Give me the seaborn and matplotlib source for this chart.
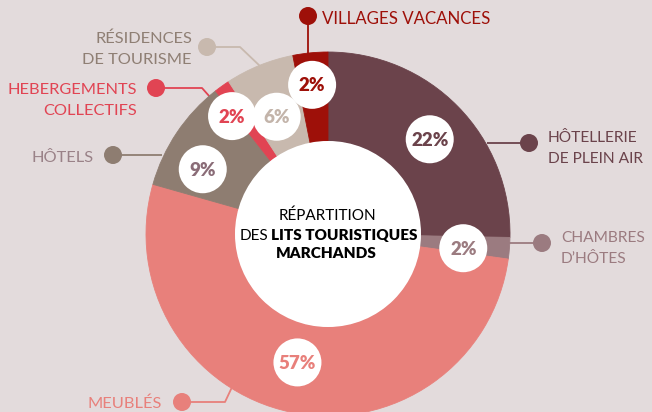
import matplotlib
matplotlib.use("Agg")
import matplotlib.pyplot as plt
import numpy as np
import seaborn as sns
from matplotlib.patches import Circle


sns.set_theme(style="white")
plt.rcParams["font.family"] = ["Lato", "DejaVu Sans"]

# clockwise from 12 o'clock
categories = [
    ["HÔTELLERIE", "DE PLEIN AIR"],
    ["CHAMBRES", "D’HÔTES"],
    ["MEUBLÉS"],
    ["HÔTELS"],
    ["HEBERGEMENTS", "COLLECTIFS"],
    ["RÉSIDENCES", "DE TOURISME"],
    ["VILLAGES VACANCES"],
]
# arc sizes as drawn in the picture (share of the ring, %)
arc_shares = [25.3, 1.9, 52.2, 10.0, 1.4, 6.1, 3.1]
# percentages printed in the bubbles
pct_labels = ["22%", "2%", "57%", "9%", "2%", "6%", "2%"]

wedge_colors = ["#6b434b", "#9b7b80", "#e8807b", "#8e7d71", "#e14453", "#c8b9ae", "#9e1009"]
pct_colors = ["#6b434b", "#9b7b80", "#e8807b", "#8a6c77", "#e14453", "#c3b4aa", "#9e1009"]
name_colors = ["#6b434b", "#9b7b80", "#e8807b", "#9a8288", "#e14453", "#8f7f74", "#9e1009"]

BG = "#e3dbdc"
W, H = 652, 412
CX, CY = 328, 234
R_OUT, R_IN = 182, 93

# layout (pixel coordinates, y down)
bubble_r = [139, 136, 132, 141, 152, 128, 150]
bubble_shift = [1.5, 1.5, 1.5, -6.5, -3.5, -1.5, -0.5]
label_anchor = [(548, 142, "left"), (561, 242, "left"), (162, 408, "right"),
                (94, 162, "right"), (137, 94, "right"), (192, 43, "right"),
                (322, 24, "left")]
label_size = [11.2, 11.2, 11.8, 11.8, 11.8, 11.8, 12.2]
leader_paths = [
    [(529, 143), (487, 143)],
    [(542, 243), (508, 243)],
    [(182, 402), (225, 402), (233, 385)],
    [(113, 155), (162, 155)],
    [(156, 88), (202, 88), (210, 97)],
    [(207, 47), (240, 47), (261, 67)],
    [(308, 16), (308, 56)],
]

fig = plt.figure(figsize=(W / 100, H / 100), dpi=100, facecolor=BG)
ax = fig.add_axes([0, 0, 1, 1])
ax.set_facecolor(BG)

# y axis is inverted below, so counterclock in data space = clockwise on screen
wedges, _ = ax.pie(
    arc_shares,
    colors=wedge_colors,
    startangle=-90,
    counterclock=True,
    radius=R_OUT,
    center=(CX, CY),
    wedgeprops=dict(width=R_OUT - R_IN, linewidth=0.6),
)
for w, c in zip(wedges, wedge_colors):
    w.set_edgecolor(c)
    w.set_zorder(2)
ax.add_patch(Circle((CX, CY), R_IN, facecolor="white", edgecolor="none", zorder=3))

# percentage bubbles
bounds = np.concatenate([[0], np.cumsum(arc_shares)]) * 3.6
for i, txt in enumerate(pct_labels):
    theta = np.deg2rad((bounds[i] + bounds[i + 1]) / 2 + bubble_shift[i])
    bx = CX + bubble_r[i] * np.sin(theta)
    by = CY - bubble_r[i] * np.cos(theta)
    ax.add_patch(Circle((bx, by), 24, facecolor="white", edgecolor="none", zorder=4))
    ax.text(bx, by + 1, txt, ha="center", va="center", fontsize=13.5,
            fontweight="heavy", color=pct_colors[i], zorder=5)

# leader lines, dots and category names
for i, lines in enumerate(categories):
    path = np.array(leader_paths[i])
    ax.plot(path[:, 0], path[:, 1], color=wedge_colors[i], lw=1.3, zorder=1,
            solid_capstyle="butt")
    ax.add_patch(Circle(tuple(path[0]), 9, facecolor=wedge_colors[i],
                        edgecolor="none", zorder=6))
    x, y0, ha = label_anchor[i]
    for k, line in enumerate(lines):
        ax.text(x, y0 + 21 * k, line, ha=ha, va="baseline", fontsize=label_size[i],
                color=name_colors[i], zorder=6)

# centre title
ax.text(CX - 1, 220, "RÉPARTITION", ha="center", va="baseline", fontsize=11,
        color="black", zorder=6)
ax.text(268, 240, "DES", ha="right", va="baseline", fontsize=11,
        color="black", zorder=6)
ax.text(271, 240, "LITS TOURISTIQUES", ha="left", va="baseline", fontsize=11,
        fontweight="heavy", color="black", zorder=6)
ax.text(CX - 2, 258, "MARCHANDS", ha="center", va="baseline", fontsize=11,
        fontweight="heavy", color="black", zorder=6)

ax.set_xlim(0, W)
ax.set_ylim(H, 0)
ax.set_aspect("equal")
ax.axis("off")

fig.savefig("out.png", dpi=100, facecolor=BG)
plt.close(fig)
